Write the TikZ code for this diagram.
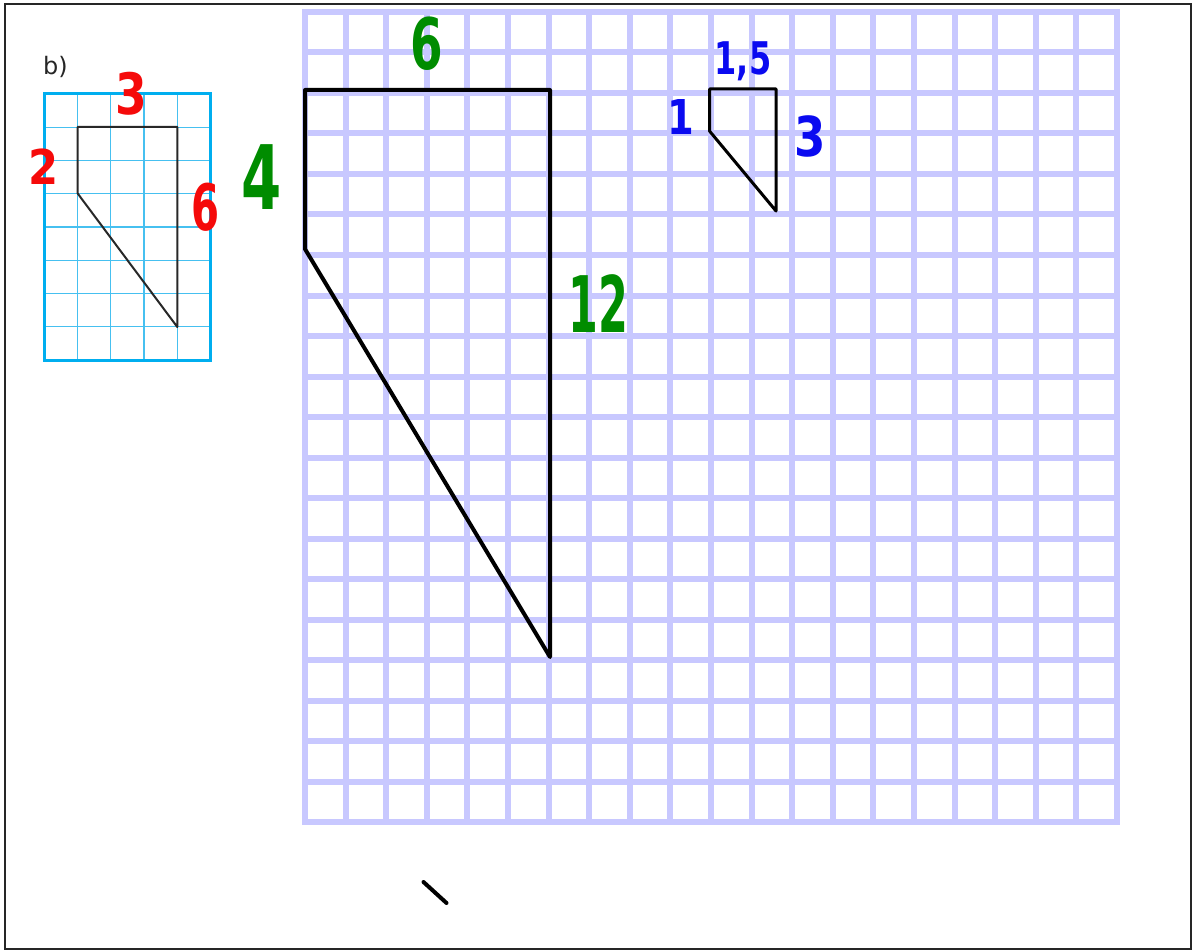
\documentclass[tikz,border=0pt]{standalone}
\usepackage{fontspec}
\setmainfont{DejaVu Sans}
\definecolor{gridlav}{RGB}{200,200,255}
\definecolor{cyanframe}{RGB}{0,174,239}
\definecolor{cyaninner}{RGB}{70,192,240}
\definecolor{hred}{RGB}{245,10,10}
\definecolor{hgreen}{RGB}{0,140,0}
\definecolor{hblue}{RGB}{10,10,240}
\definecolor{dark}{RGB}{40,40,40}
\newcommand{\hwtext}[3]{\scalebox{#2}[1]{\fontsize{#1}{#1}\selectfont\bfseries #3}}
\begin{document}
\begin{tikzpicture}[x=1pt,y=-1pt,
  biggrid/.style={draw=gridlav, line width=6pt},
  smallinner/.style={draw=cyaninner, line width=1.2pt},
  smallframe/.style={draw=cyanframe, line width=3pt},
  figsmall/.style={draw=dark, line width=2pt, line join=round},
  figbig/.style={draw=black, line width=4pt, line join=round, line cap=round},
  figmid/.style={draw=black, line width=3pt, line join=round, line cap=round},
  hw/.style={inner sep=0pt, anchor=base},
]
\useasboundingbox (0,0) rectangle (1194,952);
\fill[white] (0,0) rectangle (1194,952);
\draw[line width=2.5pt, draw=black!85] (5,4) rectangle (1191,949);

% large grid
\foreach \i in {0,...,20} {
  \draw[biggrid] ({305+40.6*\i},9) -- ({305+40.6*\i},825);
  \draw[biggrid] (302,{12+40.5*\i}) -- (1120,{12+40.5*\i});
}

% small grid
\foreach \i in {1,...,4} \draw[smallinner] ({44+33.3*\i},94) -- ({44+33.3*\i},360);
\foreach \j in {1,...,7} \draw[smallinner] (44,{94+33.25*\j}) -- (210.5,{94+33.25*\j});
\draw[smallframe] (44,94) rectangle (210.5,360);

% small figure
\coordinate (sA) at (77.7,127);
\coordinate (sB) at (177.3,127);
\coordinate (sC) at (177.3,327);
\coordinate (sD) at (77.7,193.5);
\draw[figsmall] (sA) -- (sB) -- (sC) -- (sD) -- cycle;

% big figure
\coordinate (bA) at (305,90);
\coordinate (bB) at (550,90);
\coordinate (bC) at (550,657);
\coordinate (bD) at (305,249);
\draw[figbig] (bA) -- (bB) -- (bC) -- (bD) -- cycle;

% reduced figure
\coordinate (rA) at (709.5,89);
\coordinate (rB) at (776,89);
\coordinate (rC) at (776,211);
\coordinate (rD) at (709.5,131);
\draw[figmid] (rA) -- (rB) -- (rC) -- (rD) -- cycle;

% tick mark
\coordinate (t1) at (423.5,882);
\coordinate (t2) at (446.5,903);
\draw[line width=4pt, line cap=round] (t1) -- (t2);

% labels
\node[hw, anchor=base west, text=black!85] (lb) at (43,75) {\fontsize{24}{24}\selectfont b)};
\node[hw, text=hred] (r3) at (131,115) {\hwtext{57}{0.80}{3}};
\node[hw, text=hred] (r2) at (44,185) {\hwtext{48}{0.9}{2}};
\node[hw, text=hred] (r6) at (206,230) {\hwtext{64}{0.63}{6}};
\node[hw, text=hgreen] (g4) at (262,210) {\hwtext{89}{0.65}{4}};
\node[hw, text=hgreen] (g6) at (427,70) {\hwtext{71}{0.66}{6}};
\node[hw, text=hgreen] (g12) at (598,332) {\hwtext{78}{0.55}{12}};
\node[hw, text=hblue] (b15) at (743,75) {\hwtext{45}{0.71}{1,5}};
\node[hw, text=hblue] (b1) at (681,135) {\hwtext{48}{0.8}{1}};
\node[hw, text=hblue] (b3) at (810,157) {\hwtext{55}{0.82}{3}};
\end{tikzpicture}
\end{document}
